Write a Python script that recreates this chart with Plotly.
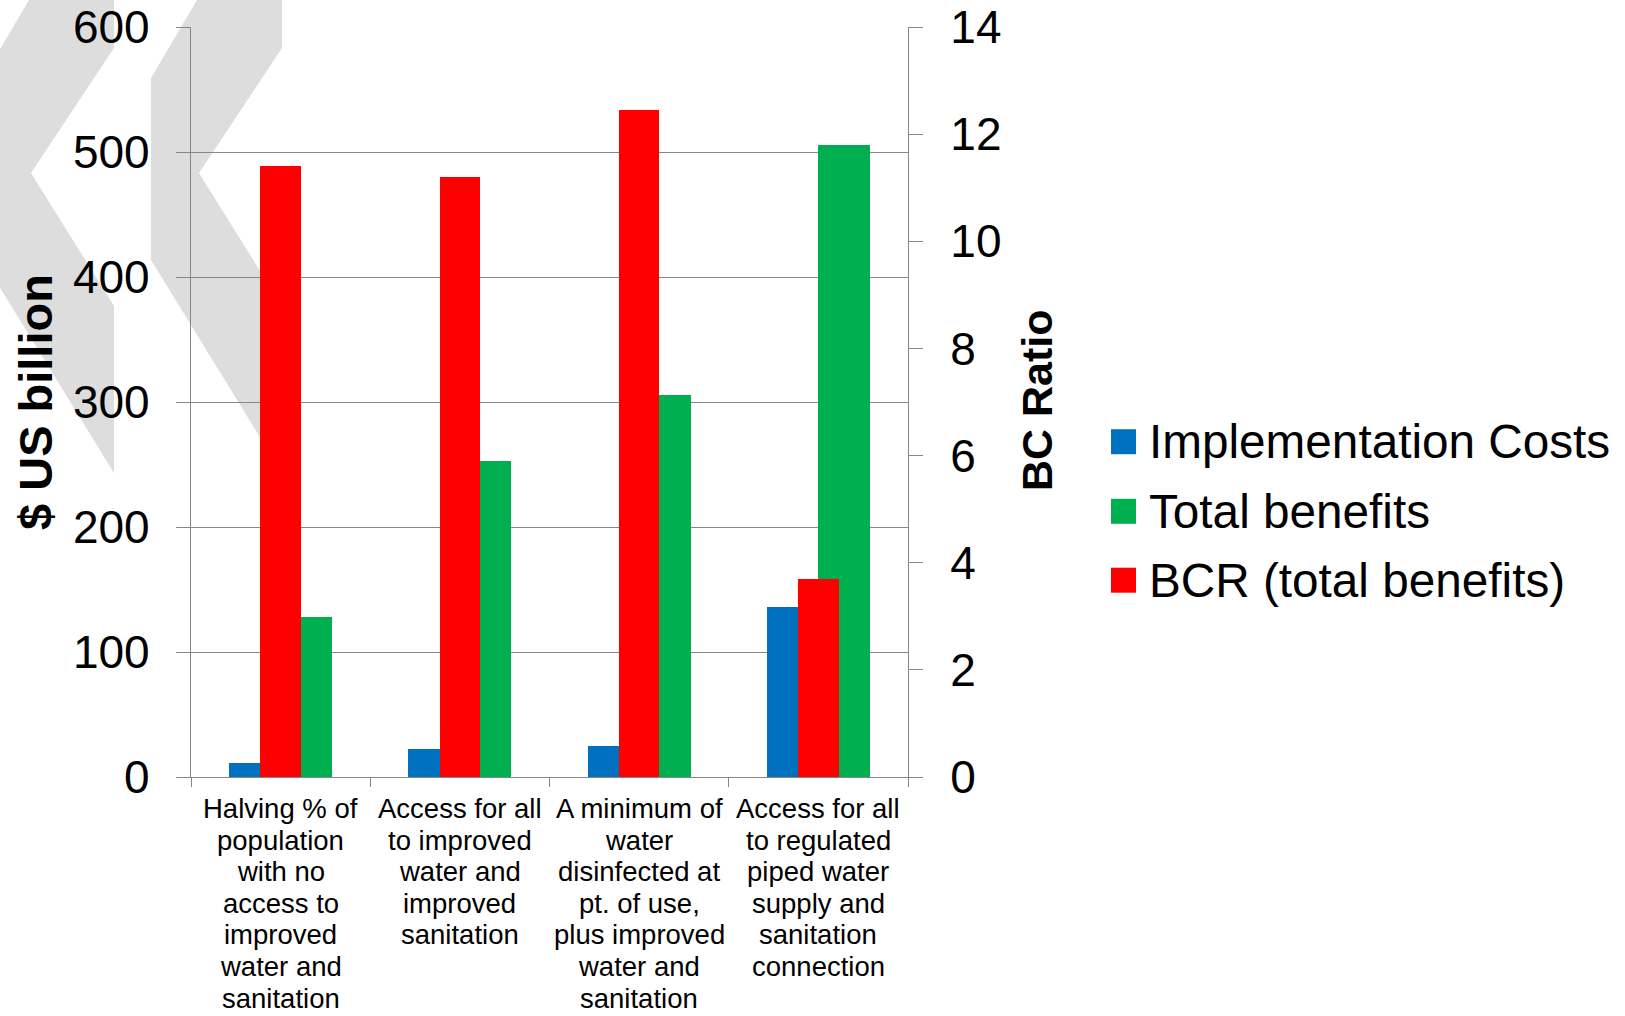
import plotly.graph_objects as go

# Scenario labels, one list of wrapped lines per category
category_lines = [
    ["Halving % of", "population", "with no", "access to", "improved", "water and", "sanitation"],
    ["Access for all", "to improved", "water and", "improved", "sanitation"],
    ["A minimum of", "water", "disinfected at", "pt. of use,", "plus improved", "water and", "sanitation"],
    ["Access for all", "to regulated", "piped water", "supply and", "sanitation", "connection"],
]
categories = [" ".join(lines) for lines in category_lines]

# $ US billion (left axis)
implementation_costs = [11, 22.5, 24.5, 136]
total_benefits = [128, 253, 306, 506]
# Benefit-cost ratio (right axis)
bcr_total_benefits = [11.4, 11.2, 12.45, 3.7]

series_names = ["Implementation Costs", "Total benefits", "BCR (total benefits)"]
series_colors = ["#0070C0", "#00B050", "#FF0000"]

left_ticks = [0, 100, 200, 300, 400, 500, 600]
right_ticks = [0, 2, 4, 6, 8, 10, 12, 14]

left_title = "$ US billion"
right_title = "BC Ratio"

# ---- layout geometry (pixels) ----
FIG_W, FIG_H = 1625, 1016
M_L, M_R, M_T, M_B = 191, 717, 27, 239
PLOT_W = FIG_W - M_L - M_R
PLOT_H = FIG_H - M_T - M_B
FONT = "Liberation Sans, Arial, sans-serif"
AXIS_GREY = "#878787"


def px_x(px):
    return (px - M_L) / PLOT_W


def px_y(py):
    return (FIG_H - M_B - py) / PLOT_H


fig = go.Figure()

# primary-axis bars sit side by side; the ratio bar is drawn centred over them
fig.add_trace(go.Bar(
    x=categories, y=implementation_costs, name=series_names[0],
    marker=dict(color=series_colors[0], line=dict(width=0)),
    offset=-0.287, width=0.287, yaxis="y",
))
fig.add_trace(go.Bar(
    x=categories, y=total_benefits, name=series_names[1],
    marker=dict(color=series_colors[1], line=dict(width=0)),
    offset=0.0, width=0.287, yaxis="y",
))
fig.add_trace(go.Bar(
    x=categories, y=bcr_total_benefits, name=series_names[2],
    marker=dict(color=series_colors[2], line=dict(width=0)),
    offset=-0.1135, width=0.227, yaxis="y2",
))

shapes = []
annotations = []

# faint double-chevron backdrop in the upper-left corner
chevron = [(197, 0), (282, 0), (282, 48), (199, 173), (282, 306),
           (282, 473), (151, 260), (151, 78)]
for shift in (0, -168):
    path = "M " + " L ".join(f"{px_x(x + shift):.5f},{px_y(y):.5f}" for x, y in chevron) + " Z"
    shapes.append(dict(type="path", path=path, xref="paper", yref="paper",
                       fillcolor="#DDDDDD", line=dict(width=0), layer="below"))

# wrapped category labels under the axis
CAT_SIZE = 27.5
for cat, lines in zip(categories, category_lines):
    for j, line in enumerate(lines):
        annotations.append(dict(
            x=cat, xref="x", y=px_y(808.5 + 31.6 * j), yref="paper",
            text=line, showarrow=False, xanchor="center", yanchor="middle",
            font=dict(family=FONT, size=CAT_SIZE, color="black"),
        ))

# axis titles
annotations.append(dict(
    x=px_x(35), y=px_y(402), xref="paper", yref="paper", text=f"<b>{left_title}</b>",
    textangle=-90, showarrow=False, xanchor="center", yanchor="middle",
    font=dict(family=FONT, size=47, color="black"),
))
annotations.append(dict(
    x=px_x(1037), y=px_y(400), xref="paper", yref="paper", text=f"<b>{right_title}</b>",
    textangle=-90, showarrow=False, xanchor="center", yanchor="middle",
    font=dict(family=FONT, size=43, color="black"),
))

# legend: coloured squares with labels
legend_centres = [441.7, 511.3, 580.2]
for name, color, cy in zip(series_names, series_colors, legend_centres):
    shapes.append(dict(type="rect", xref="paper", yref="paper",
                       x0=px_x(1111), x1=px_x(1136), y0=px_y(cy + 12.5), y1=px_y(cy - 12.5),
                       fillcolor=color, line=dict(width=0)))
    annotations.append(dict(
        x=px_x(1147), y=px_y(cy), xref="paper", yref="paper", text=name,
        showarrow=False, xanchor="left", yanchor="middle",
        font=dict(family=FONT, size=47.7, color="black"),
    ))

fig.update_layout(
    width=FIG_W, height=FIG_H,
    margin=dict(l=M_L, r=M_R, t=M_T, b=M_B, pad=0, autoexpand=False),
    paper_bgcolor="white", plot_bgcolor="rgba(0,0,0,0)",
    barmode="overlay", bargap=0, showlegend=False,
    font=dict(family=FONT, color="black"),
    shapes=shapes, annotations=annotations,
    xaxis=dict(
        type="category", range=[-0.5, 3.5], showticklabels=False,
        showgrid=False, zeroline=False, automargin=False,
        showline=True, linecolor=AXIS_GREY, linewidth=1.3,
        ticks="outside", tickson="boundaries", ticklen=9,
        tickcolor=AXIS_GREY, tickwidth=1.3,
    ),
    yaxis=dict(
        range=[0, 600], tickvals=left_ticks, ticktext=[str(v) for v in left_ticks],
        showgrid=True, gridcolor=AXIS_GREY, gridwidth=1.3, zeroline=False,
        automargin=False,
        showline=True, linecolor=AXIS_GREY, linewidth=1.3,
        ticks="outside", ticklen=14, tickcolor=AXIS_GREY, tickwidth=1.3,
        tickfont=dict(family=FONT, size=46, color="black"),
        ticklabelstandoff=17,
    ),
    yaxis2=dict(
        range=[0, 14], tickvals=right_ticks, ticktext=[str(v) for v in right_ticks],
        overlaying="y", side="right", anchor="x", automargin=False,
        showgrid=False, zeroline=False,
        showline=True, linecolor=AXIS_GREY, linewidth=1.3,
        ticks="outside", ticklen=14, tickcolor=AXIS_GREY, tickwidth=1.3,
        tickfont=dict(family=FONT, size=46, color="black"),
        ticklabelstandoff=18,
    ),
)

fig.write_html("out.html")
